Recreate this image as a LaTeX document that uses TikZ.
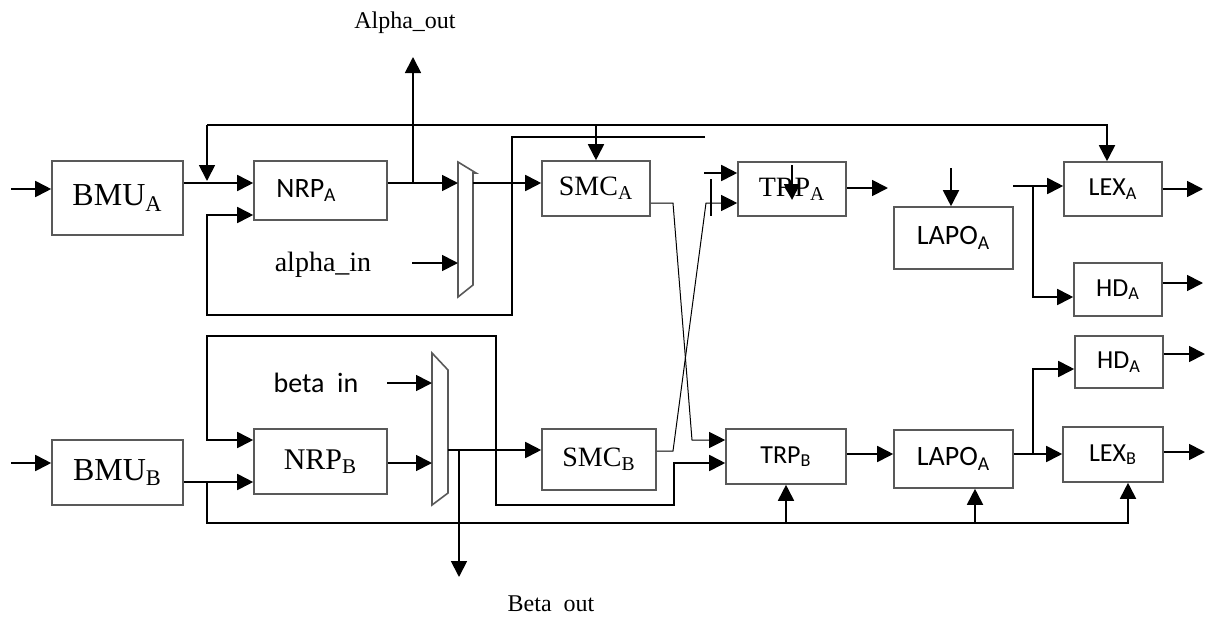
\documentclass[tikz,border=0pt]{standalone}
\usepackage{fontspec}
\setmainfont{Liberation Serif}
\newfontfamily\calfont{Carlito}
\usetikzlibrary{arrows.meta}
\newcommand{\fsz}[1]{\fontsize{#1}{#1}\selectfont}
\tikzset{
  blk/.style  ={draw=black!65, line width=0.8pt, inner sep=0pt, align=center},
  rblk/.style ={blk, font=\fsz{14}},
  sblk/.style ={blk, font=\calfont\fsz{13}},
  mux/.style  ={draw=black!65, line width=0.8pt},
  wire/.style ={line width=0.9pt},
  arr/.style  ={-{Triangle[length=8pt,width=8pt]}, line width=0.9pt},
  arrb/.style ={{Triangle[length=8pt,width=8pt]}-{Triangle[length=8pt,width=8pt]}, line width=0.9pt},
  xarr/.style ={-{Triangle[length=8pt,width=8pt]}, line width=0.5pt},
}

\begin{document}
\begin{tikzpicture}[x=0.5pt, y=-0.5pt]
\useasboundingbox (0,0) rectangle (1205,616);

% upper (A) path
\node[rblk, font=\fsz{16}, minimum width=65.5pt, minimum height=37pt] (bmuA) at (117.5,198) {BMU\textsubscript{A}};
\node[sblk, font=\calfont\fsz{14}, minimum width=66.5pt, minimum height=29.5pt] (nrpA) at (320.5,190.5) {NRP\textsubscript{A}\hspace{14pt}};
\node[rblk, minimum width=54pt, minimum height=27.5pt] (smcA) at (596,188.5) {SMC\textsubscript{A}};
\node[rblk, minimum width=54pt, minimum height=27pt] (trpA) at (792,189) {TRP\textsubscript{A}};
\node[sblk, font=\calfont\fsz{14}, minimum width=59.5pt, minimum height=31pt] (lapoA) at (953.5,238) {LAPO\textsubscript{A}};
\node[sblk, minimum width=49pt, minimum height=27pt] (lexA) at (1113,189) {LEX\textsubscript{A}};
\node[sblk, minimum width=44pt, minimum height=26.5pt] (hdA) at (1118,289.5) {HD\textsubscript{A}};

% lower (B) path
\node[rblk, font=\fsz{16}, minimum width=65.5pt, minimum height=32.5pt] (bmuB) at (117.5,472.5) {BMU\textsubscript{B}};
\node[rblk, font=\fsz{15}, minimum width=66.5pt, minimum height=32.5pt] (nrpB) at (320.5,461.5) {NRP\textsubscript{B}};
\node[rblk, minimum width=57pt, minimum height=30.5pt] (smcB) at (599,459.5) {SMC\textsubscript{B}};
\node[sblk, minimum width=60pt, minimum height=27.5pt] (trpB) at (786,456.5) {TRP\textsubscript{B}};
\node[sblk, font=\calfont\fsz{14}, minimum width=59.5pt, minimum height=29pt] (lapoB) at (953.5,459) {LAPO\textsubscript{A}};
\node[sblk, minimum width=44pt, minimum height=26pt] (hdB) at (1119,362) {HD\textsubscript{A}};
\node[sblk, minimum width=50pt, minimum height=27.5pt] (lexB) at (1113,454.5) {LEX\textsubscript{B}};

% labels
\node[font=\fsz{12}] (aout) at (405,23) {Alpha\_out};
\node[font=\fsz{14}] (ain) at (323,265) {alpha\_in};
\node[font=\calfont\fsz{14}] (bin) at (316,383) {beta\ \ in};
\node[font=\fsz{12}] (bout) at (551,604) {Beta\ \ out};

% muxes
\draw[mux] (458,162) -- (476,173) -- (473,173) -- (473,285) -- (458,297) -- cycle;
\draw[mux] (432,353) -- (448,370) -- (448,493) -- (432,505) -- cycle;
\coordinate (mA1) at (458,183);
\coordinate (mA2) at (458,263);
\coordinate (mAo) at (473,183);
\coordinate (mB1) at (432,383);
\coordinate (mB2) at (432,463);
\coordinate (mBo) at (448,450);

% rows and free ends
\coordinate (rA1) at (0,183);
\coordinate (rA2) at (0,203);
\coordinate (rA5) at (0,297);
\coordinate (rB1) at (0,440);
\coordinate (rB3) at (0,451);
\coordinate (rB4) at (0,482);
\coordinate (rB5) at (0,454);
\coordinate (rB6) at (0,369);
\coordinate (inA) at (11,189);
\coordinate (inB) at (11,463);
\coordinate (fbA) at (207,125);
\coordinate (fbR) at (1107,125);
\coordinate (aoJ) at (413,183);
\coordinate (aoT) at (413,57);
\coordinate (ainS) at (412,263);
\coordinate (lpA1) at (705,137);
\coordinate (lpA2) at (512,315);
\coordinate (lpA3) at (207,215);
\coordinate (tA1) at (704,173);
\coordinate (tA2) at (792,165);
\coordinate (tk1) at (711,179);
\coordinate (tk2) at (711,216);
\coordinate (tAo) at (888,188);
\coordinate (lAi) at (951,168);
\coordinate (lxA) at (1013,186);
\coordinate (brA) at (1033,186);
\coordinate (oA1) at (1203,189);
\coordinate (oA2) at (1203,283);
\coordinate (brB) at (207,482);
\coordinate (bus) at (207,523);
\coordinate (busL) at (975,523);
\coordinate (busR) at (1128,523);
\coordinate (lpB1) at (207,336);
\coordinate (lpB2) at (496,505);
\coordinate (lpB3) at (674,463);
\coordinate (binS) at (387,383);
\coordinate (boJ) at (459,450);
\coordinate (boT) at (459,577);
\coordinate (brB2) at (1033,454);
\coordinate (oB1) at (1205,354);
\coordinate (oB2) at (1205,452);

% A side wiring
\draw[arr] (inA) -- (inA -| bmuA.west);
\draw[arr] (bmuA.east |- rA1) -- (nrpA.west |- rA1);
\draw[arr] (fbA) -- ([yshift=1pt]fbA |- rA1);
\draw[arr] (fbA) -- (fbR) -- (fbR |- lexA.north);
\draw[arr] (smcA.north |- fbA) -- (smcA.north);
\draw[arr] (nrpA.east |- rA1) -- (mA1);
\draw[arr] (aoJ) -- (aoT);
\draw[arr] (ainS) -- (mA2);
\draw[arr] (lpA1) -| (lpA2) -| (lpA3) -- (lpA3 -| nrpA.west);
\draw[arr] (mAo) -- (mAo -| smcA.west);
\draw[xarr] (smcA.east |- rA2) -- (673,203) -- (692,440) -- (trpB.west |- rB1);
\draw[xarr] (smcB.east |- rB3) -- (673,451) -- (706,203) -- (trpA.west |- rA2);
\draw[arr] (tA1) -- (tA1 -| trpA.west);
\draw[wire] (tk1) -- (tk2);
\draw[arr] (tA2) -- ++(0,35);
\draw[arr] (tAo -| trpA.east) -- (tAo);
\draw[arr] (lAi) -- (lAi |- lapoA.north);
\draw[arr] (lxA) -- (lxA -| lexA.west);
\draw[arr] (brA) |- (hdA.west |- rA5);
\draw[arr] (oA1 -| lexA.east) -- (oA1);
\draw[arr] (oA2 -| hdA.east) -- (oA2);

% B side wiring
\draw[arr] (inB) -- (inB -| bmuB.west);
\draw[arr] (bmuB.east |- rB4) -- (nrpB.west |- rB4);
\draw[arr] (brB) -- (bus) -- (busR) -- (busR |- lexB.south);
\draw[arr] (trpB.south |- bus) -- (trpB.south);
\draw[arr] (busL) -- (busL |- lapoB.south);
\draw[arrb] (nrpB.west |- rB1) -| (lpB1) -| (lpB2) -| (lpB3) -- (trpB.west |- lpB3);
\draw[arr] (binS) -- (mB1);
\draw[arr] (nrpB.east |- mB2) -- (mB2);
\draw[arr] (mBo) -- (mBo -| smcB.west);
\draw[arr] (boJ) -- (boT);
\draw[arr] (trpB.east |- rB5) -- (lapoB.west |- rB5);
\draw[arr] (lapoB.east |- rB5) -- (lexB.west |- rB5);
\draw[arr] (brB2) |- (hdB.west |- rB6);
\draw[arr] (oB1 -| hdB.east) -- (oB1);
\draw[arr] (oB2 -| lexB.east) -- (oB2);
\end{tikzpicture}
\end{document}
